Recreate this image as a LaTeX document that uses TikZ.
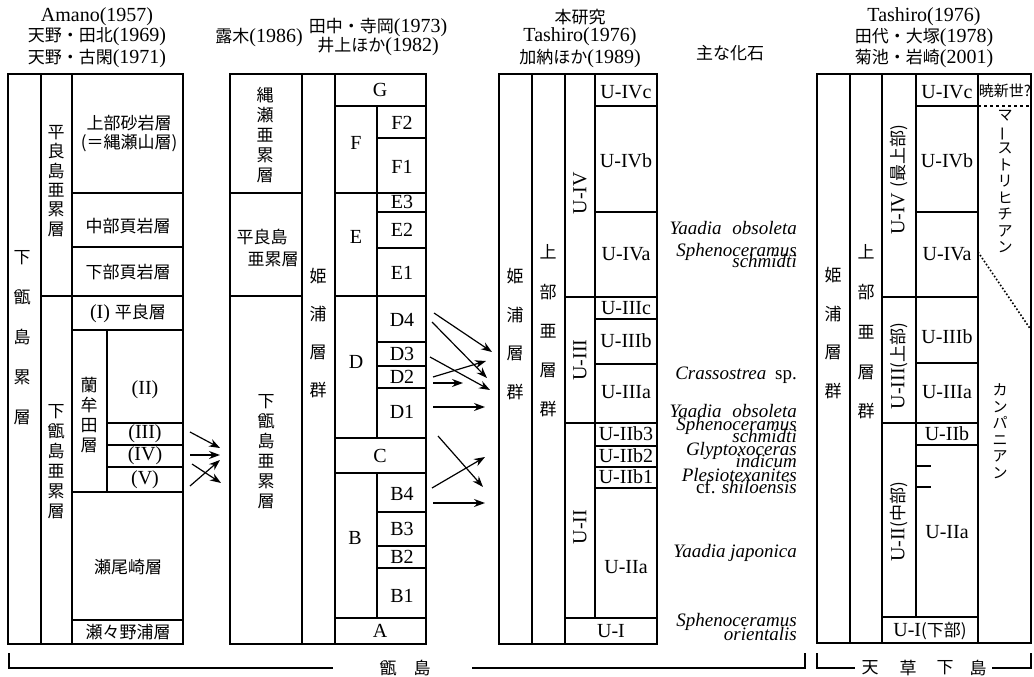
\documentclass[tikz,border=0pt]{standalone}
\usepackage{fontspec}
\usepackage{graphicx}
\setmainfont{Liberation Serif}
\newfontfamily\jp{Noto Sans CJK JP}
\newcommand\J[1]{{\jp\fontsize{17}{20}\selectfont #1}}
\usetikzlibrary{arrows.meta}

\begin{document}
\begin{tikzpicture}[x=1pt,y=-1pt,
   frame/.style={line width=1.1pt},
   lab/.style={font=\fontsize{20}{22}\selectfont,inner sep=0pt},
   jlab/.style={font=\jp\fontsize{17}{20}\selectfont,inner sep=0pt},
   tate/.style={font=\jp\fontsize{17}{#1}\selectfont,align=center,inner sep=0pt},
   kana/.style={font=\jp\fontsize{15}{16.5}\selectfont,align=center,inner sep=0pt},
   ulab/.style={lab,rotate=90},
   fossil/.style={font=\fontsize{19}{20}\selectfont\itshape,anchor=base east,inner sep=0pt},
   arr/.style={-{Stealth[length=11pt,width=8pt]},line width=1.2pt}
]
   \useasboundingbox (0,0) rectangle (1034,677);

   % headers
   \node[lab] (amano) at (97,17) {Amano(1957)};
   \node[lab] (tahoku) at (97,37) {\J{天野・田北}(1969)};
   \node[lab] (koga) at (97,58) {\J{天野・古閑}(1971)};
   \node[lab] (tsuyuki) at (259,37) {\J{露木}(1986)};
   \node[lab] (teraoka) at (378,27) {\J{田中・寺岡}(1973)};
   \node[lab] (inoue) at (378,47) {\J{井上ほか}(1982)};
   \node[jlab] (honken) at (580,17) {本研究};
   \node[lab] (tashiroA) at (580,37) {Tashiro(1976)};
   \node[lab] (kano) at (580,58) {\J{加納ほか}(1989)};
   \node[jlab] (kaseki) at (730,53) {主な化石};
   \node[lab] (tashiroB) at (924,17) {Tashiro(1976)};
   \node[lab] (otsuka) at (924,37) {\J{田代・大塚}(1978)};
   \node[lab] (kikuchi) at (924,58) {\J{菊池・岩崎}(2001)};

   % column 1
   \draw[frame] (8,74) rectangle (183,644);
   \draw[frame] (41,74) -- (41,644);
   \draw[frame] (72,74) -- (72,644);
   \draw[frame] (107,330) -- (107,492);
   \foreach \y in {193,247,330,492,620}
      \draw[frame] (72,\y) -- (183,\y);
   \draw[frame] (41,296) -- (183,296);
   \foreach \y in {423,445,467}
      \draw[frame] (107,\y) -- (183,\y);

   \node[tate=40] (shimoR) at (22,338) {下\\甑\\島\\累\\層};
   \node[tate=19.4] (hiraA) at (56,181) {平\\良\\島\\亜\\累\\層};
   \node[tate=20] (shimoA) at (56,462) {下\\甑\\島\\亜\\累\\層};
   \node[tate=20] (ranmuta) at (89,415) {蘭\\牟\\田\\層};
   \node[jlab] (josa) at (129,123) {上部砂岩層};
   \node[jlab] (nawase) at (129,143) {(＝縄瀬山層)};
   \node[jlab] (chuketsu) at (128,226) {中部頁岩層};
   \node[jlab] (kaketsu) at (128,272) {下部頁岩層};
   \node[lab] (hira1) at (128,313) {(I) \J{平良層}};
   \node[lab] (r2) at (145,390) {(II)};
   \node[lab] (r3) at (145,434) {(III)};
   \node[lab] (r4) at (145,456) {(IV)};
   \node[lab] (r5) at (145,480) {(V)};
   \node[jlab] (seo) at (128,567) {瀬尾崎層};
   \node[jlab] (sese) at (128,632) {瀬々野浦層};

   % column 2
   \draw[frame] (230,74) rectangle (426,644);
   \draw[frame] (302,74) -- (302,644);
   \draw[frame] (335,74) -- (335,644);
   \draw[frame] (377,106) -- (377,438);
   \draw[frame] (377,473) -- (377,618);
   \draw[frame] (230,193) -- (302,193);
   \draw[frame] (230,296) -- (302,296);
   \foreach \y in {106,193,296,438,473,618}
      \draw[frame] (335,\y) -- (426,\y);
   \foreach \y in {138,212,248,342,366,388,512,546,568}
      \draw[frame] (377,\y) -- (426,\y);

   \node[tate=20] (nawaseA) at (265,135) {縄\\瀬\\亜\\累\\層};
   \node[jlab] (hiraB1) at (262,237) {平良島};
   \node[jlab] (hiraB2) at (273,259) {亜累層};
   \node[tate=20] (shimoB) at (266,452) {下\\甑\\島\\亜\\累\\層};
   \node[tate=38.3] (himeB) at (318,333) {姫\\浦\\層\\群};
   \node[lab] (uG) at (380,90) {G};
   \node[lab] (uF) at (356,143) {F};
   \node[lab] (uF2) at (402,123) {F2};
   \node[lab] (uF1) at (402,167) {F1};
   \node[lab] (uE) at (356,237) {E};
   \node[lab] (uE3) at (402,202) {E3};
   \node[lab] (uE2) at (402,230) {E2};
   \node[lab] (uE1) at (402,273) {E1};
   \node[lab] (uD) at (356,362) {D};
   \node[lab] (uD4) at (402,320) {D4};
   \node[lab] (uD3) at (402,354) {D3};
   \node[lab] (uD2) at (402,377) {D2};
   \node[lab] (uD1) at (402,412) {D1};
   \node[lab] (uC) at (380,456) {C};
   \node[lab] (uB) at (355,538) {B};
   \node[lab] (uB4) at (402,494) {B4};
   \node[lab] (uB3) at (402,529) {B3};
   \node[lab] (uB2) at (402,557) {B2};
   \node[lab] (uB1) at (402,596) {B1};
   \node[lab] (uA) at (380,631) {A};

   % column 3
   \draw[frame] (499,74) rectangle (657,644);
   \draw[frame] (532,74) -- (532,644);
   \draw[frame] (565,74) -- (565,644);
   \draw[frame] (595,74) -- (595,618);
   \foreach \y in {297,423,618}
      \draw[frame] (565,\y) -- (657,\y);
   \foreach \y in {106,212,319,364,446,467,488}
      \draw[frame] (595,\y) -- (657,\y);

   \node[tate=38.7] (himeC) at (515,334) {姫\\浦\\層\\群};
   \node[tate=39.3] (jobuC) at (548,331) {上\\部\\亜\\層\\群};
   \node[ulab] (c4) at (580,193) {U-IV};
   \node[ulab] (c3) at (580,360) {U-III};
   \node[ulab] (c2) at (580,527) {U-II};
   \node[lab] (c4c) at (626,92) {U-IVc};
   \node[lab] (c4b) at (626,161) {U-IVb};
   \node[lab] (c4a) at (626,254) {U-IVa};
   \node[lab] (c3c) at (626,308) {U-IIIc};
   \node[lab] (c3b) at (626,341) {U-IIIb};
   \node[lab] (c3a) at (626,392) {U-IIIa};
   \node[lab] (c2b3) at (626,434) {U-IIb3};
   \node[lab] (c2b2) at (626,456) {U-IIb2};
   \node[lab] (c2b1) at (626,477) {U-IIb1};
   \node[lab] (c2a) at (626,567) {U-IIa};
   \node[lab] (c1) at (611,631) {U-I};

   % fossils
   \node[fossil] (f1) at (797,234) {Yaadia\hspace{6pt} obsoleta};
   \node[fossil] (f2) at (797,256) {Sphenoceramus};
   \node[fossil] (f3) at (797,267) {schmidti};
   \node[fossil] (f4) at (797,379) {Crassostrea\hspace{4pt} \upshape sp.};
   \node[fossil] (f5) at (797,417) {Yaadia\hspace{6pt} obsoleta};
   \node[fossil] (f6) at (797,430) {Sphenoceramus};
   \node[fossil] (f7) at (797,442) {schmidti};
   \node[fossil] (f8) at (797,455) {Glyptoxoceras};
   \node[fossil] (f9) at (797,467) {indicum};
   \node[fossil] (f10) at (797,481) {Plesiotexanites};
   \node[fossil] (f11) at (797,493) {{\upshape cf.} shiloensis};
   \node[fossil] (f12) at (797,557) {Yaadia japonica};
   \node[fossil] (f13) at (797,626) {Sphenoceramus};
   \node[fossil] (f14) at (797,640) {orientalis};

   % column 4
   \draw[frame] (817,74) rectangle (1031,643);
   \draw[frame] (850,74) -- (850,643);
   \draw[frame] (882,74) -- (882,643);
   \draw[frame] (916,74) -- (916,617);
   \draw[frame] (978,74) -- (978,643);
   \foreach \y in {297,423,617}
      \draw[frame] (882,\y) -- (978,\y);
   \foreach \y in {106,212,363,445}
      \draw[frame] (916,\y) -- (978,\y);
   \foreach \y in {466,487}
      \draw[frame] (916,\y) -- (931,\y);
   \draw[frame,dashed] (978,106) -- (1031,106);
   \draw[line width=1.6pt,dotted] (978,252) -- (1031,330);

   \node[tate=38.7] (himeD) at (833,333) {姫\\浦\\層\\群};
   \node[tate=39.7] (jobuD) at (866,332) {上\\部\\亜\\層\\群};
   \node[ulab] (d4) at (899,180) {U-IV \J{(最上部)}};
   \node[ulab] (d3) at (899,366) {U-III\J{(上部)}};
   \node[ulab] (d2) at (899,522) {U-II\J{(中部)}};
   \node[lab] (d4c) at (947,92) {U-IVc};
   \node[lab] (d4b) at (947,161) {U-IVb};
   \node[lab] (d4a) at (947,254) {U-IVa};
   \node[lab] (d3b) at (947,337) {U-IIIb};
   \node[lab] (d3a) at (947,392) {U-IIIa};
   \node[lab] (d2b) at (947,434) {U-IIb};
   \node[lab] (d2a) at (947,532) {U-IIa};
   \node[lab] (d1) at (930,631) {U-I\J{(下部)}};
   \node[jlab,font=\jp\fontsize{15}{16}\selectfont] (paleo) at (1005,91) {暁新世?};
   \node[kana] (maas) at (1005,182) {マ\\\rotatebox[origin=c]{90}{ー}\\ス\\ト\\リ\\ヒ\\チ\\ア\\ン};
   \node[kana] (camp) at (1000,431) {カ\\ン\\パ\\ニ\\ア\\ン};

   % correlation arrows
   \foreach \i/\sx/\sy/\ex/\ey in {1/190/432/220/448, 2/190/455/220/455,
         3/192/464/221/483, 4/190/486/220/460,
         5/434/313/492/352, 6/432/322/487/378, 7/430/357/490/390,
         8/433/377/486/361, 9/433/383/463/383, 10/433/407/485/407,
         11/438/436/483/487, 12/432/488/485/457, 13/433/503/485/503} {
      \coordinate (as\i) at (\sx,\sy);
      \coordinate (ae\i) at (\ex,\ey);
      \draw[arr] (as\i) -- (ae\i);
   }

   % island brackets
   \node[jlab] (koshiki1) at (388,668) {甑};
   \node[jlab] (koshiki2) at (422,668) {島};
   \draw[frame] (9,653) -- (9,668) -- (koshiki1.west -| 333,0);
   \draw[frame] (koshiki2.east -| 472,0) -- (805,668) -- (805,653);
   \node[jlab] (ama1) at (870,668) {天};
   \node[jlab] (ama2) at (908,668) {草};
   \node[jlab] (ama3) at (945,668) {下};
   \node[jlab] (ama4) at (978,668) {島};
   \draw[frame] (817,653) -- (817,668) -- (855,668);
   \draw[frame] (992,668) -- (1031,668) -- (1031,653);
\end{tikzpicture}
\end{document}
